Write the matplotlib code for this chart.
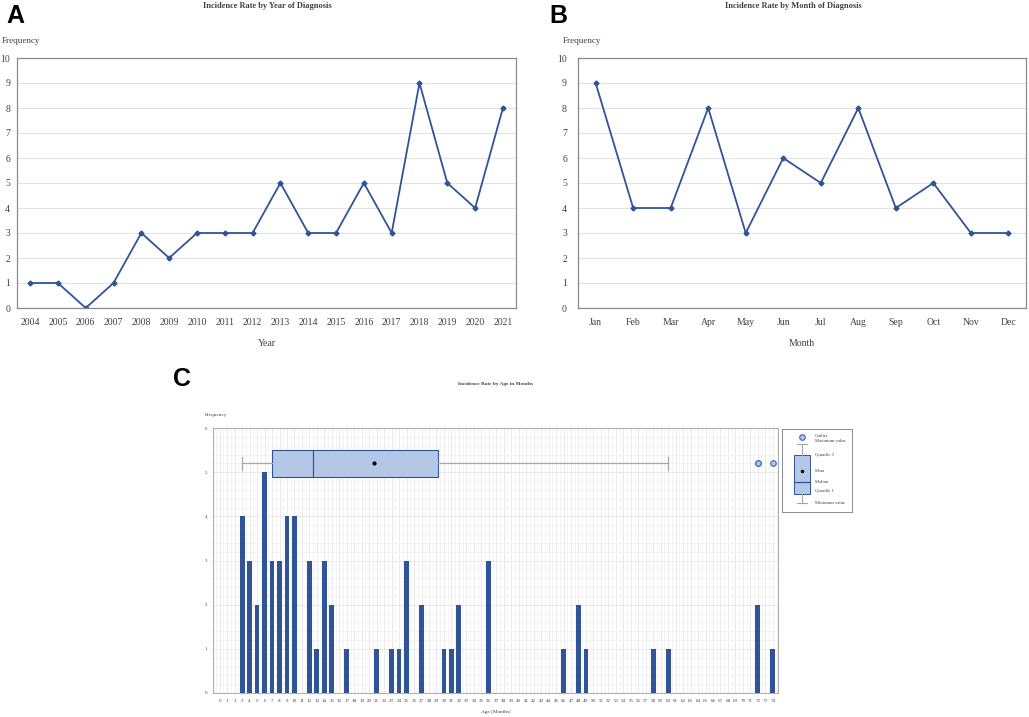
import numpy as np
import matplotlib.pyplot as plt
from matplotlib.patches import Rectangle

plt.rcParams['font.family'] = ['Liberation Serif', 'DejaVu Serif']

### data
years = list(range(2004, 2022))
year_counts = [1, 1, 0, 1, 3, 2, 3, 3, 3, 5, 3, 3, 5, 3, 9, 5, 4, 8]

months = ['Jan', 'Feb', 'Mar', 'Apr', 'May', 'Jun', 'Jul', 'Aug', 'Sep', 'Oct', 'Nov', 'Dec']
month_counts = [9, 4, 4, 8, 3, 6, 5, 8, 4, 5, 3, 3]

ages = [3, 4, 5, 6, 7, 8, 9, 10, 12, 13, 14, 15, 17, 21, 23, 24, 25, 27,
        30, 31, 32, 36, 46, 48, 49, 58, 60, 72, 74]
age_counts = [4, 3, 2, 5, 3, 3, 4, 4, 3, 1, 3, 2, 1, 1, 1, 1, 3, 2,
              1, 1, 2, 3, 1, 2, 1, 1, 1, 2, 1]

legend_labels = ['Outlier', 'Maximum value', 'Quartile 3', 'Mean', 'Median', 'Quartile 1', 'Minimum value']

blue = '#2f5597'
light = '#b4c7e7'
W, H = 1029, 717


def px_axes(fig, l, t, r, b):
    return fig.add_axes([l / W, 1 - b / H, (r - l) / W, (b - t) / H])


def line_panel(ax, labels, values, xlabel):
    x = np.arange(len(labels))
    ax.plot(x, values, color=blue, lw=1.3, marker='D', ms=2.5)
    ax.set_xlim(-0.47, len(labels) - 0.53)
    ax.set_ylim(0, 10)
    ax.set_yticks(range(11))
    ax.set_xticks(x)
    ax.set_xticklabels(labels)
    ax.yaxis.grid(True, color='#e3e3e3', lw=0.8)
    ax.set_axisbelow(True)
    for s in ax.spines.values():
        s.set_color('#8c8c8c')
        s.set_linewidth(0.9)
    ax.tick_params(length=0, labelsize=7, colors='#404040', pad=7)
    ax.set_xlabel(xlabel, fontsize=7, color='#404040', labelpad=9)


fig = plt.figure(figsize=(W / 100, H / 100), dpi=100)

# A
axA = px_axes(fig, 17, 58, 516, 308)
line_panel(axA, [str(y) for y in years], year_counts, 'Year')
axA.tick_params(axis='y', pad=5)
fig.text(267 / W, 1 - 6 / H, 'Incidence Rate by Year of Diagnosis', ha='center', va='center',
         fontsize=6, fontweight='bold', color='#404040')
fig.text(2 / W, 1 - 41 / H, 'Frequency', ha='left', va='center', fontsize=6.5, color='#404040')
fig.text(6 / W, 1 - 16 / H, 'A', ha='left', va='center', fontsize=18, fontweight='bold',
         family='Liberation Sans')

# B
axB = px_axes(fig, 578, 58, 1026, 308)
line_panel(axB, months, month_counts, 'Month')
axB.tick_params(axis='y', pad=8)
fig.text(793 / W, 1 - 6 / H, 'Incidence Rate by Month of Diagnosis', ha='center', va='center',
         fontsize=6, fontweight='bold', color='#404040')
fig.text(563 / W, 1 - 41 / H, 'Frequency', ha='left', va='center', fontsize=6.5, color='#404040')
fig.text(549 / W, 1 - 16 / H, 'B', ha='left', va='center', fontsize=18, fontweight='bold',
         family='Liberation Sans')

# C
axC = px_axes(fig, 213, 428, 778, 693)
axC.bar(ages, age_counts, width=0.64, color=blue, zorder=3)
sample = np.repeat(ages, age_counts)
axC.boxplot(sample, orientation='horizontal', positions=[5.2], widths=0.6, showmeans=True,
            patch_artist=True, manage_ticks=False, zorder=4,
            boxprops=dict(facecolor=light, edgecolor=blue, lw=0.8),
            medianprops=dict(color=blue, lw=0.9),
            whiskerprops=dict(color='#a6a6a6', lw=0.9),
            capprops=dict(color='#a6a6a6', lw=0.9),
            meanprops=dict(marker='o', markerfacecolor='black', markeredgecolor='black', ms=2),
            flierprops=dict(marker='o', markerfacecolor=light, markeredgecolor='#4472c4',
                            ms=4, mew=0.9))
axC.set_xlim(-0.9, 74.7)
axC.set_ylim(0, 6)
axC.set_xticks(range(75))
axC.set_yticks(range(7))
axC.set_xticks(np.arange(-0.5, 75, 1), minor=True)
axC.set_yticks(np.arange(0, 6, 0.2), minor=True)
axC.grid(True, which='major', color='#e6e6e6', lw=0.6)
axC.grid(True, which='minor', color='#f0f0f0', lw=0.5)
axC.set_axisbelow(True)
for s in axC.spines.values():
    s.set_color('#b0b0b0')
    s.set_linewidth(0.8)
axC.tick_params(which='both', length=0, labelsize=3.6, colors='#404040', pad=4)
axC.set_xlabel('Age (Months)', fontsize=3.8, color='#404040', labelpad=5)
fig.text(495 / W, 1 - 384 / H, 'Incidence Rate by Age in Months', ha='center', va='center',
         fontsize=3.8, fontweight='bold', color='#404040')
fig.text(205 / W, 1 - 415 / H, 'Frequency', ha='left', va='center', fontsize=3.8, color='#404040')
fig.text(173 / W, 1 - 379 / H, 'C', ha='left', va='center', fontsize=18, fontweight='bold',
         family='Liberation Sans')

# legend for box plot (drawn in its own small axes, pixel units)
axL = px_axes(fig, 782, 429, 852, 512)
axL.set_xlim(0, 70)
axL.set_ylim(83, 0)
axL.set_xticks([])
axL.set_yticks([])
for s in axL.spines.values():
    s.set_color('#8c8c8c')
    s.set_linewidth(0.7)
axL.plot([20], [8], marker='o', ms=4, mfc=light, mec='#4472c4', mew=0.9)
axL.plot([20, 20], [15, 26], color='#a6a6a6', lw=0.8)
axL.plot([20, 20], [65, 74], color='#a6a6a6', lw=0.8)
axL.plot([15, 25], [15, 15], color='#a6a6a6', lw=0.8)
axL.plot([15, 25], [74, 74], color='#a6a6a6', lw=0.8)
axL.add_patch(Rectangle((12, 26), 16, 39, facecolor=light, edgecolor=blue, lw=0.7))
axL.plot([12, 28], [53, 53], color=blue, lw=0.9)
axL.plot([20], [42], marker='o', ms=1.5, color='black')
for yy, txt in zip([7, 12, 26, 42, 53, 62, 74], legend_labels):
    axL.text(33, yy, txt, fontsize=3.3, va='center', ha='left', color='#404040')

fig.savefig('out.png', dpi=100)
